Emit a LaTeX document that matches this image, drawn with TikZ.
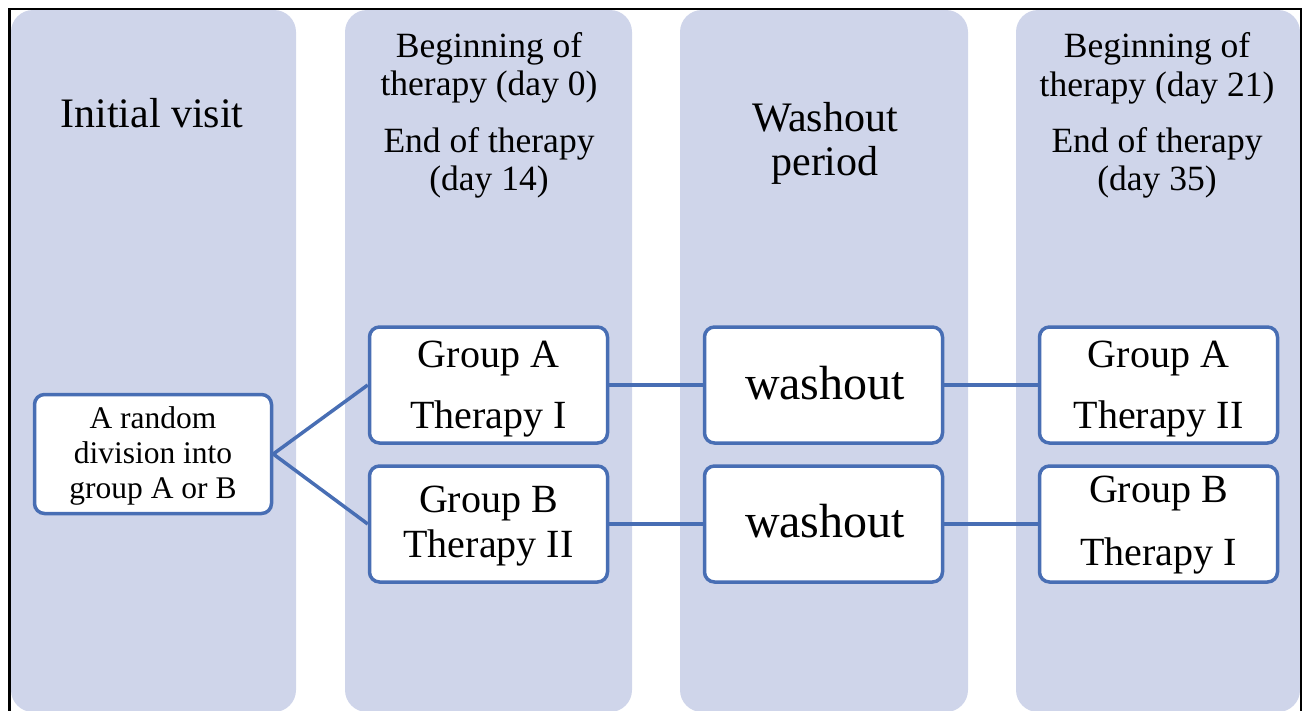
\documentclass[tikz,border=0pt]{standalone}
\usepackage{fontspec}
\setmainfont{Liberation Serif}
\definecolor{colfill}{RGB}{207,213,234}
\definecolor{boxblue}{RGB}{72,110,180}
\begin{document}
\begin{tikzpicture}[x=1pt,y=-1pt,
  column/.style={fill=colfill, draw=none, rounded corners=22pt},
  boxnode/.style={draw=boxblue, line width=3.5pt, fill=white, rounded corners=10pt,
    minimum width=238pt, minimum height=116pt, inner sep=0pt},
  conn/.style={draw=boxblue, line width=3.5pt},
  hdr/.style={anchor=base, inner sep=0pt, font=\fontsize{35.5}{38}\selectfont},
  bighdr/.style={anchor=base, inner sep=0pt, font=\fontsize{42}{45}\selectfont},
  boxtxt/.style={anchor=base, inner sep=0pt, font=\fontsize{40}{43}\selectfont},
  washtxt/.style={anchor=base, inner sep=0pt, font=\fontsize{48}{51}\selectfont},
  smalltxt/.style={anchor=base, inner sep=0pt, font=\fontsize{31.5}{34}\selectfont},
  frame/.style={draw=black, line width=2.5pt}
]
\useasboundingbox (0,0) rectangle (1304,710);

% columns
\fill[column] (11,10) rectangle (296,712);
\fill[column] (345,10) rectangle (632,712);
\fill[column] (680,10) rectangle (968,712);
\fill[column] (1016,10) rectangle (1300,712);

% column headers
\node[bighdr] (h1) at (152,127) {Initial visit};
\node[hdr] (h2a) at (489,57) {Beginning of};
\node[hdr] (h2b) at (489,95) {therapy (day 0)};
\node[hdr] (h2c) at (489,152) {End of therapy};
\node[hdr] (h2d) at (489,190) {(day 14)};
\node[bighdr] (h3a) at (825,131) {Washout};
\node[bighdr] (h3b) at (825,175) {period};
\node[hdr] (h4a) at (1157,57) {Beginning of};
\node[hdr] (h4b) at (1157,96) {therapy (day 21)};
\node[hdr] (h4c) at (1157,152) {End of therapy};
\node[hdr] (h4d) at (1157,190) {(day 35)};

% boxes
\node[boxnode, minimum width=237pt, minimum height=119pt] (rand) at (153,454) {};
\node[boxnode] (ga) at (488.5,385) {};
\node[boxnode] (gb) at (488.5,524) {};
\node[boxnode] (w1) at (823.5,385) {};
\node[boxnode] (w2) at (823.5,524) {};
\node[boxnode] (ra) at (1158.5,385) {};
\node[boxnode] (rb) at (1158.5,524) {};

% connectors
\draw[conn] (rand.east) -- (ga.west);
\draw[conn] (rand.east) -- (gb.west);
\draw[conn] (ga.east) -- (w1.west);
\draw[conn] (gb.east) -- (w2.west);
\draw[conn] (w1.east) -- (ra.west);
\draw[conn] (w2.east) -- (rb.west);

% box texts
\node[smalltxt] (t1) at (153,428) {A random};
\node[smalltxt] (t2) at (153,463) {division into};
\node[smalltxt] (t3) at (153,498) {group A or B};
\node[boxtxt] (ga1) at (488.5,367) {Group A};
\node[boxtxt] (ga2) at (488.5,428) {Therapy I};
\node[boxtxt] (gb1) at (488.5,512) {Group B};
\node[boxtxt] (gb2) at (488.5,557) {Therapy II};
\node[washtxt] (w1t) at (825,399) {washout};
\node[washtxt] (w2t) at (825,537) {washout};
\node[boxtxt] (ra1) at (1158.5,367) {Group A};
\node[boxtxt] (ra2) at (1158.5,428) {Therapy II};
\node[boxtxt] (rb1) at (1158.5,502) {Group B};
\node[boxtxt] (rb2) at (1158.5,565) {Therapy I};

% outer frame
\draw[frame] (9.5,712) -- (9.5,9) -- (1301,9) -- (1301,712);
\end{tikzpicture}
\end{document}
